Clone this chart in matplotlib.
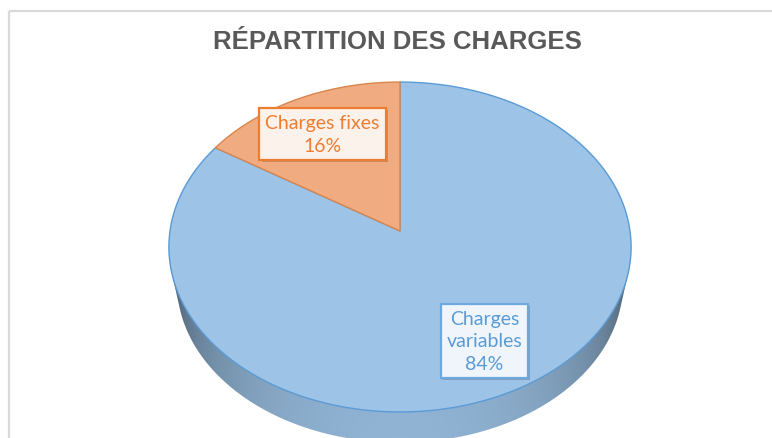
import numpy as np
import matplotlib
matplotlib.use("Agg")
import matplotlib.pyplot as plt
from matplotlib.patches import Polygon, Rectangle
from matplotlib.colors import to_rgb
import matplotlib.patheffects as pe

title = "RÉPARTITION DES CHARGES"
# slices in clockwise order starting at 12 o'clock
categories = ["Charges variables", "Charges fixes"]
shares = [84, 16]
label_texts = ["Charges\nvariables\n84%", "Charges fixes\n16%"]
top_colors = ["#9DC3E6", "#F0AC80"]
edge_colors = ["#5B9BD5", "#D9854C"]
label_colors = ["#5B9BD5", "#ED7D31"]
label_fc = ["#EFF5FB", "#FCF2EC"]
label_ec = ["#6FA8DC", "#ED7D31"]

W, H = 772, 439
fig = plt.figure(figsize=(W / 100, H / 100), dpi=100)
ax = fig.add_axes([0, 0, 1, 1])
ax.set_xlim(0, W)
ax.set_ylim(H, 0)
ax.axis("off")

# frame of the chart area
ax.add_patch(Rectangle((9, 12), 900, 600, fill=False, ec="#D9D9D9", lw=1.6))

# 3D pie geometry (perspective)
cx, cy = 400, 232
R, B, k = 230.0, 163.4, 0.097
D, m = 37, 0.965  # bottom face offset and scale


def proj(t, scale=1.0, dy=0.0):
    s = 1.0 / (1.0 + k * np.sin(t))
    return cx + scale * R * np.cos(t) * s, cy + dy - scale * B * np.sin(t) * s


def hull(points):
    pts = sorted(map(tuple, points))
    def cross(o, a, b):
        return (a[0] - o[0]) * (b[1] - o[1]) - (a[1] - o[1]) * (b[0] - o[0])
    lower, upper = [], []
    for p in pts:
        while len(lower) >= 2 and cross(lower[-2], lower[-1], p) <= 0:
            lower.pop()
        lower.append(p)
    for p in reversed(pts):
        while len(upper) >= 2 and cross(upper[-2], upper[-1], p) <= 0:
            upper.pop()
        upper.append(p)
    return np.array(lower[:-1] + upper[:-1])


fr = np.array(shares, float) / sum(shares)
starts = np.pi / 2 - 2 * np.pi * np.concatenate([[0], np.cumsum(fr)[:-1]])
ends = starts - 2 * np.pi * fr

# side wall: hull of top and bottom faces, filled with a shaded gradient
tt = np.linspace(0, 2 * np.pi, 720)
xt, yt = proj(tt)
xbt, ybt = proj(tt, m, D)
hp = hull(np.column_stack([np.r_[xt, xbt], np.r_[yt, ybt]]))
side_base = np.array(to_rgb(top_colors[0]))
gx = np.linspace(cx - R * 1.01, cx + R * 1.01, 600)
u = np.clip((gx - cx) / (R * 1.005), -1, 1)
f = 0.26 + 0.65 * (1 - u ** 2) ** 0.3
gy = np.linspace(0, 1, 60)
img = side_base[None, None, :] * f[None, :, None] * (0.97 + 0.05 * gy[:, None, None])
img = np.clip(img, 0, 1)
im = ax.imshow(img, extent=(gx[0], gx[-1], cy + D + B * 1.2, cy), origin="upper",
               aspect="auto", interpolation="bilinear", zorder=1)
side_patch = Polygon(hp, closed=True, fc="none", ec="none", transform=ax.transData)
ax.add_patch(side_patch)
im.set_clip_path(side_patch)
ax.set_xlim(0, W)
ax.set_ylim(H, 0)

# top face
for i, (a0, a1) in enumerate(zip(starts, ends)):
    t = np.linspace(a0, a1, 300)
    x, y = proj(t)
    pts = np.column_stack([np.r_[cx, x], np.r_[cy, y]])
    ax.add_patch(Polygon(pts, closed=True, fc=top_colors[i], ec=edge_colors[i], lw=1.0,
                         joinstyle="round", zorder=2))

# labels
label_pos = [(484.5, 342), (322.5, 135)]
for i, (px, py) in enumerate(label_pos):
    txt = ax.text(px, py, label_texts[i], ha="center", va="center", fontsize=14,
                  family="Lato", linespacing=1.42, color=label_colors[i], zorder=5,
                  bbox=dict(boxstyle="square,pad=0.3", fc=label_fc[i], ec=label_ec[i], lw=1.6))
    txt.get_bbox_patch().set_path_effects(
        [pe.SimplePatchShadow(offset=(1.5, -1.5), shadow_rgbFace="k", alpha=0.18), pe.Normal()])

ax.text(397, 42, title, ha="center", va="center", fontsize=18.5, fontweight="bold",
        color="#595959", family="Liberation Sans")

fig.savefig("out.png", dpi=100)
